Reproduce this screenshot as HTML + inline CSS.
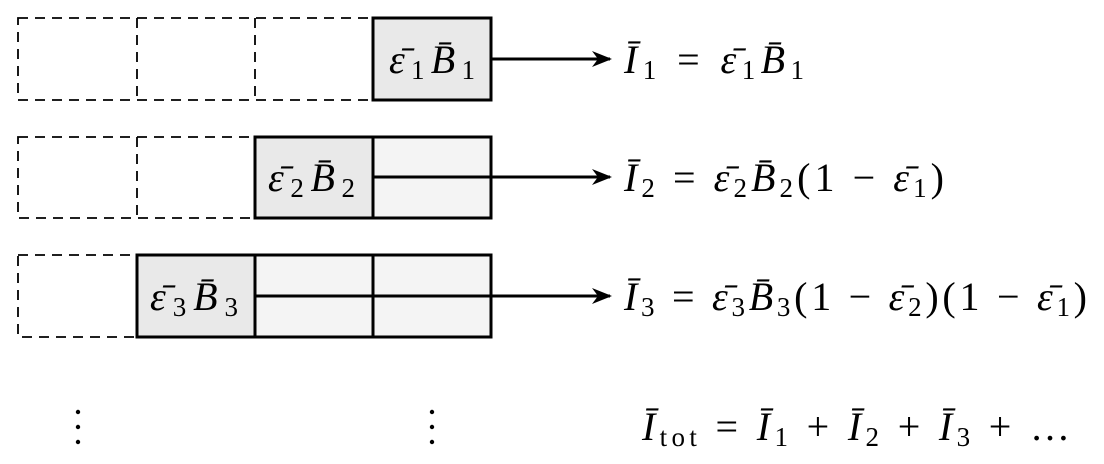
<!DOCTYPE html>
<html><head><meta charset="utf-8"><style>
html,body{margin:0;padding:0;background:#fff;width:1104px;height:464px;overflow:hidden}
text{font-family:"Liberation Serif",serif;font-size:40px;fill:#000}
.s{font-size:27px;font-style:normal}
.i{font-style:italic}
</style></head><body>
<svg width="1104" height="464" viewBox="0 0 1104 464">
<defs><marker id="a" markerWidth="20" markerHeight="16" refX="18" refY="8" orient="auto" markerUnits="userSpaceOnUse"><path d="M0,0 L20,8 L0,16 L6,8 Z" fill="#000"/></marker></defs>
<g fill="none" stroke="#000" stroke-width="1.8" stroke-dasharray="10,7">
<rect x="18" y="18" width="355" height="82"/><line x1="137" y1="18" x2="137" y2="100"/><line x1="255" y1="18" x2="255" y2="100"/>
<rect x="18" y="137" width="237" height="81"/><line x1="137" y1="137" x2="137" y2="218"/>
<rect x="18" y="255" width="119" height="82"/>
</g>
<g stroke="#000" stroke-width="3">
<rect x="373" y="18" width="118" height="82" fill="#e9e9e9"/>
<rect x="373" y="137" width="118" height="81" fill="#f4f4f4"/>
<rect x="255" y="137" width="118" height="81" fill="#e9e9e9"/>
<rect x="255" y="255" width="236" height="82" fill="#f4f4f4"/><line x1="373" y1="255" x2="373" y2="337"/>
<rect x="137" y="255" width="118" height="82" fill="#e9e9e9"/>
<line x1="491" y1="59" x2="610" y2="59" marker-end="url(#a)"/>
<line x1="373" y1="177" x2="610" y2="177" marker-end="url(#a)"/>
<line x1="255" y1="296" x2="610" y2="296" marker-end="url(#a)"/>
</g>
<text x="389" y="73" textLength="86" lengthAdjust="spacing"><tspan class="i">ε̄</tspan><tspan class="s" dy="6">1</tspan><tspan class="i" dy="-6">B̄</tspan><tspan class="s" dy="6">1</tspan></text>
<text x="268" y="191" textLength="87" lengthAdjust="spacing"><tspan class="i">ε̄</tspan><tspan class="s" dy="6">2</tspan><tspan class="i" dy="-6">B̄</tspan><tspan class="s" dy="6">2</tspan></text>
<text x="150" y="310" textLength="88" lengthAdjust="spacing"><tspan class="i">ε̄</tspan><tspan class="s" dy="6">3</tspan><tspan class="i" dy="-6">B̄</tspan><tspan class="s" dy="6">3</tspan></text>
<text x="624" y="73" textLength="180" lengthAdjust="spacing"><tspan class="i">Ī</tspan><tspan class="s" dy="6">1</tspan><tspan dy="-6"> = </tspan><tspan class="i">ε̄</tspan><tspan class="s" dy="6">1</tspan><tspan class="i" dy="-6">B̄</tspan><tspan class="s" dy="6">1</tspan></text>
<text x="624" y="191" textLength="320" lengthAdjust="spacing"><tspan class="i">Ī</tspan><tspan class="s" dy="6">2</tspan><tspan dy="-6"> = </tspan><tspan class="i">ε̄</tspan><tspan class="s" dy="6">2</tspan><tspan class="i" dy="-6">B̄</tspan><tspan class="s" dy="6">2</tspan><tspan dy="-6">(1 − </tspan><tspan class="i">ε̄</tspan><tspan class="s" dy="6">1</tspan><tspan dy="-6">)</tspan></text>
<text x="624" y="310" textLength="463" lengthAdjust="spacing"><tspan class="i">Ī</tspan><tspan class="s" dy="6">3</tspan><tspan dy="-6"> = </tspan><tspan class="i">ε̄</tspan><tspan class="s" dy="6">3</tspan><tspan class="i" dy="-6">B̄</tspan><tspan class="s" dy="6">3</tspan><tspan dy="-6">(1 − </tspan><tspan class="i">ε̄</tspan><tspan class="s" dy="6">2</tspan><tspan dy="-6">)(1 − </tspan><tspan class="i">ε̄</tspan><tspan class="s" dy="6">1</tspan><tspan dy="-6">)</tspan></text>
<text x="642" y="440" textLength="428" lengthAdjust="spacing"><tspan class="i">Ī</tspan><tspan class="s" dy="6">tot</tspan><tspan dy="-6"> = </tspan><tspan class="i">Ī</tspan><tspan class="s" dy="6">1</tspan><tspan dy="-6"> + </tspan><tspan class="i">Ī</tspan><tspan class="s" dy="6">2</tspan><tspan dy="-6"> + </tspan><tspan class="i">Ī</tspan><tspan class="s" dy="6">3</tspan><tspan dy="-6"> + …</tspan></text>
<g fill="#000"><circle cx="78" cy="412" r="2.2"/><circle cx="78" cy="427" r="2.2"/><circle cx="78" cy="442" r="2.2"/>
<circle cx="432" cy="412" r="2.2"/><circle cx="432" cy="427" r="2.2"/><circle cx="432" cy="442" r="2.2"/></g>
</svg>
</body></html>
